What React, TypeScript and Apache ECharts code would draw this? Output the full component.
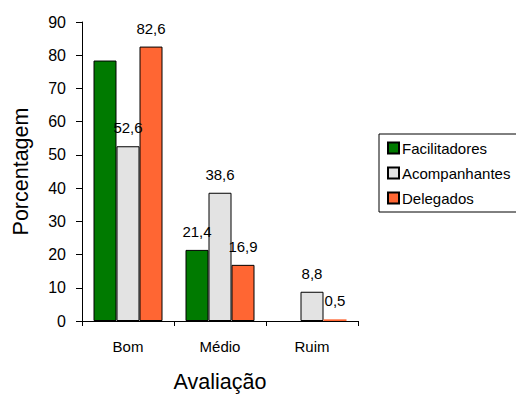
import React, { useEffect, useRef } from "react";
import * as echarts from "echarts";

const categories = ["Bom", "Médio", "Ruim"];
const seriesNames = ["Facilitadores", "Acompanhantes", "Delegados"];
const facilitadores = [78.4, 21.4, 0];
const acompanhantes = [52.6, 38.6, 8.8];
const delegados = [82.6, 16.9, 0.5];
const yTicks = [0, 10, 20, 30, 40, 50, 60, 70, 80, 90];

// Facilitadores' Bom bar carries no value label
const facilitadoresLabelled = [false, true, false];

const colors = ["#007A00", "#E3E3E3", "#FF6633"];
const FONT = "Liberation Sans, Arial, sans-serif";

const fmt = (v: number) => v.toFixed(1).replace(".", ",");

export default function App() {
  const ref = useRef<HTMLDivElement>(null);

  useEffect(() => {
    if (!ref.current) return;
    const chart = echarts.init(ref.current, null, { renderer: "svg" });

    const labelStyle = {
      show: true,
      position: "top" as const,
      distance: 11,
      color: "#000",
      fontFamily: FONT,
      fontSize: 15,
      formatter: (p: any) => fmt(p.value),
    };

    const mkSeries = (name: string, data: number[], idx: number, labelled?: boolean[]) => ({
      name,
      type: "bar",
      barGap: "0%",
      barCategoryGap: "25%",
      itemStyle: { color: colors[idx], borderColor: "#000", borderWidth: 1 },
      data: data.map((v, i) => ({
        value: v,
        label: { ...labelStyle, show: labelled ? labelled[i] : v > 0 },
        // very short bars keep their fill visible instead of a black outline
        itemStyle: v < 1 ? { borderWidth: 0 } : undefined,
      })),
    });

    chart.setOption({
      animation: false,
      backgroundColor: "#fff",
      textStyle: { fontFamily: FONT },
      grid: { left: 82, right: 158, top: 22, bottom: 75 },
      legend: {
        orient: "vertical",
        left: 379,
        top: 134,
        padding: [5, 40, 5, 8],
        itemGap: 7,
        itemWidth: 11,
        itemHeight: 11,
        icon: "rect",
        borderColor: "#000",
        borderWidth: 1,
        backgroundColor: "#fff",
        textStyle: { fontFamily: FONT, fontSize: 15, color: "#000", padding: [0, 0, 0, -2], lineHeight: 18 },
        data: seriesNames,
      },
      xAxis: {
        type: "category",
        data: categories,
        name: "Avaliação",
        nameLocation: "middle",
        nameGap: 50,
        nameTextStyle: { fontFamily: FONT, fontSize: 21.5, color: "#000" },
        axisLine: { lineStyle: { color: "#000", width: 1 } },
        axisTick: { show: true, length: 5, lineStyle: { color: "#000" } },
        axisLabel: { color: "#000", fontSize: 15, fontFamily: FONT, margin: 18 },
      },
      yAxis: {
        type: "value",
        min: 0,
        max: 90,
        interval: 10,
        name: "Porcentagem",
        nameLocation: "middle",
        nameGap: 50,
        nameTextStyle: { fontFamily: FONT, fontSize: 21.5, color: "#000" },
        axisLine: { show: true, lineStyle: { color: "#000", width: 1 } },
        axisTick: { show: true, length: 6, lineStyle: { color: "#000" } },
        axisLabel: {
          color: "#000",
          fontSize: 16,
          fontFamily: FONT,
          margin: 16,
          formatter: (v: number) => (yTicks.includes(v) ? String(v) : ""),
        },
        splitLine: { show: false },
      },
      series: [
        mkSeries(seriesNames[0], facilitadores, 0, facilitadoresLabelled),
        mkSeries(seriesNames[1], acompanhantes, 1),
        mkSeries(seriesNames[2], delegados, 2),
      ],
    });

    return () => chart.dispose();
  }, []);

  return <div ref={ref} style={{ width: 516, height: 398, position: "absolute", left: 0, top: 0 }} />;
}
